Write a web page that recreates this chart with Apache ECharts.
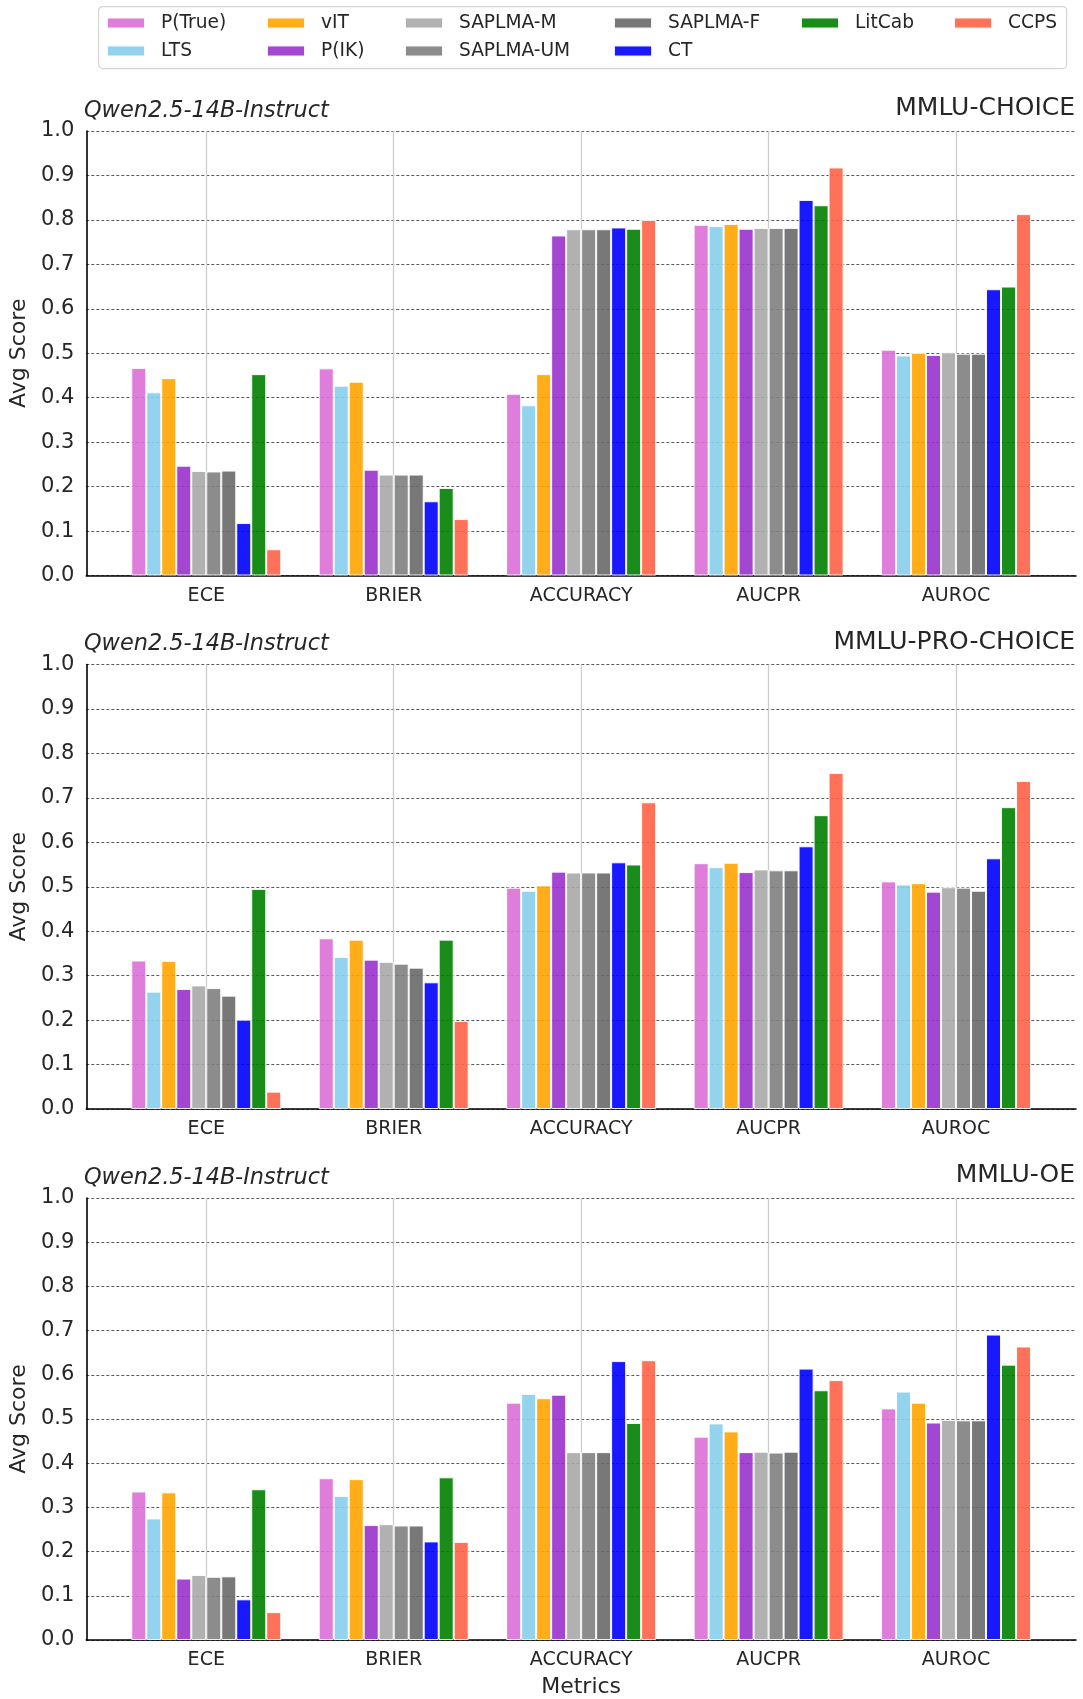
<!DOCTYPE html>
<html><head><meta charset="utf-8">
<script src="https://cdn.jsdelivr.net/npm/echarts@6/dist/echarts.min.js"></script>
<style>html,body{margin:0;padding:0;background:#fff}#c{width:1083px;height:1699px}</style>
</head><body><div id="c"></div><script>
const metrics = ['ECE', 'BRIER', 'ACCURACY', 'AUCPR', 'AUROC'];
const methods = ['P(True)', 'LTS', 'vIT', 'P(IK)', 'SAPLMA-M', 'SAPLMA-UM', 'SAPLMA-F', 'CT', 'LitCab', 'CCPS'];
const methodColors = ['#DA70D6', '#87CEEB', '#FFA500', '#9932CC', '#A9A9A9', '#808080', '#696969', '#0000FF', '#008000', '#FF6347'];
const datasets = ['MMLU-CHOICE', 'MMLU-PRO-CHOICE', 'MMLU-OE'];
const modelName = 'Qwen2.5-14B-Instruct';
const yTicks = [0, 0.1, 0.2, 0.3, 0.4, 0.5, 0.6, 0.7, 0.8, 0.9, 1.0];

// rows follow `methods`, columns follow `metrics`
const mmluChoice = [
  [0.467, 0.466, 0.409, 0.789, 0.508],
  [0.412, 0.427, 0.383, 0.786, 0.495],
  [0.444, 0.436, 0.453, 0.791, 0.501],
  [0.247, 0.238, 0.765, 0.780, 0.496],
  [0.235, 0.227, 0.779, 0.782, 0.502],
  [0.234, 0.227, 0.779, 0.782, 0.499],
  [0.236, 0.227, 0.779, 0.782, 0.499],
  [0.118, 0.167, 0.783, 0.845, 0.644],
  [0.453, 0.197, 0.780, 0.833, 0.650],
  [0.059, 0.127, 0.800, 0.918, 0.813]
];
const mmluProChoice = [
  [0.334, 0.384, 0.498, 0.553, 0.512],
  [0.264, 0.342, 0.491, 0.544, 0.505],
  [0.333, 0.381, 0.503, 0.554, 0.508],
  [0.270, 0.336, 0.534, 0.533, 0.489],
  [0.278, 0.331, 0.532, 0.539, 0.499],
  [0.272, 0.327, 0.532, 0.537, 0.498],
  [0.255, 0.318, 0.532, 0.537, 0.491],
  [0.201, 0.285, 0.555, 0.591, 0.564],
  [0.495, 0.381, 0.550, 0.661, 0.679],
  [0.039, 0.198, 0.690, 0.756, 0.738]
];
const mmluOE = [
  [0.336, 0.366, 0.537, 0.460, 0.524],
  [0.275, 0.326, 0.557, 0.490, 0.562],
  [0.334, 0.364, 0.547, 0.472, 0.537],
  [0.139, 0.260, 0.555, 0.425, 0.492],
  [0.147, 0.262, 0.425, 0.426, 0.498],
  [0.143, 0.259, 0.425, 0.424, 0.497],
  [0.144, 0.259, 0.425, 0.426, 0.497],
  [0.092, 0.223, 0.631, 0.614, 0.691],
  [0.341, 0.368, 0.491, 0.565, 0.623],
  [0.063, 0.222, 0.633, 0.588, 0.664]
];
const panelValues = [mmluChoice, mmluProChoice, mmluOE];

const FONT = 'DejaVu Sans';
const TXT = '#262626';
const panelTops = [131, 664.5, 1198];
const plotH = 444.5;
const gridLeft = 86, gridRight = 7;

const chart = echarts.init(document.getElementById('c'), null, {renderer: 'canvas'});

const grids = [], xAxes = [], yAxes = [], series = [], titles = [];
panelTops.forEach((top, p) => {
  grids.push({left: gridLeft, right: gridRight, top: top, height: plotH, containLabel: false});
  xAxes.push({
    type: 'value', gridIndex: p, min: -0.64, max: 4.64,
    name: p === 2 ? 'Metrics' : '', nameLocation: 'middle', nameGap: 36,
    nameTextStyle: {fontFamily: FONT, fontSize: 22, color: TXT},
    axisLine: {show: true, onZero: false, lineStyle: {color: '#000', width: 1.6}},
    axisTick: {show: false},
    splitLine: {show: false},
    axisLabel: {
      show: true, margin: 11, fontFamily: FONT, fontSize: 19, color: TXT,
      customValues: [0, 1, 2, 3, 4],
      formatter: v => (Math.abs(v - Math.round(v)) < 1e-6 && metrics[Math.round(v)]) ? metrics[Math.round(v)] : ''
    }
  });
  yAxes.push({
    type: 'value', gridIndex: p, min: 0, max: 1, interval: 0.1,
    name: 'Avg Score', nameLocation: 'middle', nameGap: 54,
    nameTextStyle: {fontFamily: FONT, fontSize: 22, color: TXT},
    axisLine: {show: true, onZero: false, lineStyle: {color: '#000', width: 1.6}},
    axisTick: {show: false},
    axisLabel: {margin: 12, fontFamily: FONT, fontSize: 21, color: TXT, formatter: v => v.toFixed(1)},
    splitLine: {show: true, lineStyle: {color: '#333333', width: 0.8, type: [3, 2]}}
  });
  titles.push({
    text: modelName, left: gridLeft - 2, top: top - 31, padding: 0,
    textStyle: {fontFamily: FONT, fontSize: 22.4, fontStyle: 'italic', fontWeight: 'normal', color: TXT}
  });
  titles.push({
    text: datasets[p], right: 8, top: top - 35, padding: 0,
    textStyle: {fontFamily: FONT, fontSize: 25, fontWeight: 'normal', color: TXT}
  });
  // helper series carrying the vertical guide lines at category centres
  series.push({
    type: 'line', xAxisIndex: p, yAxisIndex: p, data: [], silent: true, z: 1,
    markLine: {
      silent: true, symbol: 'none', z: 1, animation: false,
      label: {show: false},
      lineStyle: {color: '#cccccc', width: 1.3, type: 'solid'},
      emphasis: {disabled: true},
      data: metrics.map((_, i) => ({xAxis: i}))
    }
  });
  const vals = panelValues[p];
  methods.forEach((m, j) => {
    series.push({
      name: m, type: 'bar', xAxisIndex: p, yAxisIndex: p,
      barGap: '0%', barCategoryGap: '20%', z: 2,
      itemStyle: {color: methodColors[j], opacity: 0.9, borderColor: '#ffffff', borderWidth: 1},
      emphasis: {disabled: true},
      data: metrics.map((_, i) => [i, vals[j][i]])
    });
  });
});

const legendCols = [
  {left: 106, names: ['P(True)', 'LTS']},
  {left: 266, names: ['vIT', 'P(IK)']},
  {left: 404, names: ['SAPLMA-M', 'SAPLMA-UM']},
  {left: 613, names: ['SAPLMA-F', 'CT']},
  {left: 800, names: ['LitCab']},
  {left: 953, names: ['CCPS']}
];
const legends = legendCols.map(c => ({
  data: c.names, orient: 'vertical', left: c.left, top: 13, padding: 0,
  itemWidth: 38, itemHeight: 11, itemGap: 8, icon: 'rect', selectedMode: false,
  textStyle: {fontFamily: FONT, fontSize: 18.6, color: TXT, lineHeight: 20, padding: [0, 0, 0, 11]}
}));

chart.setOption({
  backgroundColor: '#ffffff',
  animation: false,
  textStyle: {fontFamily: FONT},
  title: titles,
  legend: legends,
  grid: grids,
  xAxis: xAxes,
  yAxis: yAxes,
  series: series,
  graphic: [{
    type: 'rect', left: 98, top: 6, z: -1, silent: true,
    shape: {width: 968, height: 62, r: 4},
    style: {fill: '#ffffff', stroke: '#d4d4d4', lineWidth: 1.2}
  }]
});
</script></body></html>
